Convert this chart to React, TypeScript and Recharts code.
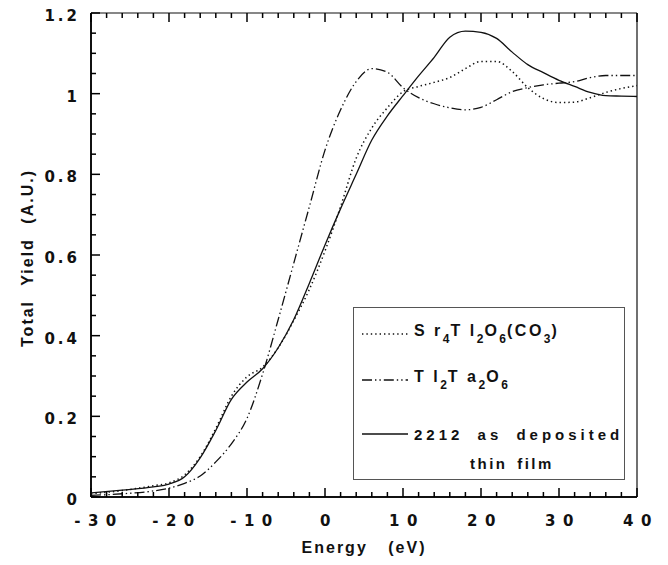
import { Legend, Line, LineChart, XAxis, YAxis } from 'recharts';

const energy = [
  -30, -26, -22, -20, -18, -16, -14, -12, -10, -8, -6, -4, -2, 0, 2, 4, 6, 8, 10, 12, 14, 16, 18, 20, 22, 24,
  26, 28, 30, 32, 34, 36, 38, 40,
];

// Sr4Tl2O6(CO3), dotted
const srTlYield = [
  0.008, 0.016, 0.028, 0.035, 0.055, 0.1, 0.17, 0.25, 0.298, 0.322, 0.37, 0.438, 0.515, 0.61, 0.72, 0.84, 0.915,
  0.965, 1.005, 1.018, 1.028, 1.04, 1.062, 1.08, 1.08, 1.055, 1.015, 0.988, 0.978, 0.979, 0.99, 1.003, 1.013, 1.02,
];

// Tl2Ta2O6, dash-dot-dot
const tlTaYield = [
  0.004, 0.008, 0.015, 0.022, 0.034, 0.052, 0.087, 0.132, 0.195, 0.305, 0.44, 0.58, 0.72, 0.86, 0.96, 1.03, 1.062,
  1.053, 1.015, 0.99, 0.975, 0.965, 0.96, 0.966, 0.985, 1.005, 1.015, 1.022, 1.026, 1.03, 1.04, 1.045, 1.045, 1.045,
];

// 2212 as deposited thin film, solid
const filmYield = [
  0.01, 0.017, 0.025, 0.032, 0.05, 0.097, 0.165, 0.242, 0.285, 0.318, 0.37, 0.44, 0.53, 0.625, 0.715, 0.8, 0.885,
  0.945, 0.995, 1.044, 1.09, 1.14, 1.155, 1.152, 1.137, 1.103, 1.072, 1.052, 1.033, 1.018, 1.003, 0.995, 0.994, 0.993,
];

const xTicks = Array.from({ length: 36 }, (_, i) => -30 + i * 2);
const yTicks = Array.from({ length: 25 }, (_, i) => Math.round(i * 5) / 100);

const rows = energy.map((e, i) => ({
  energy: e,
  srTl: srTlYield[i],
  tlTa: tlTaYield[i],
  film: filmYield[i],
}));

const FONT = '"Liberation Sans", Arial, sans-serif';
const TICK_FONT = '"DejaVu Sans", "Liberation Sans", sans-serif';
const INK = '#111';
const DOTTED = '1.4 3';
const DASHDOT = '10 3 1.4 3 1.4 3';

const isMajorX = (v: number) => v % 10 === 0;
const isMajorY = (v: number) => Math.round(v * 100) % 20 === 0;
const fmtY = (v: number) => String(Math.round(v * 10) / 10);

// ticks point inward on all four sides, long at labelled values
function BottomTick({ x, y, payload }: any) {
  const v = payload.value as number;
  const major = isMajorX(v);
  return (
    <g>
      <line x1={x} y1={y} x2={x} y2={y - (major ? 9 : 5)} stroke="#000" strokeWidth={1.5} />
      {major && (
        <text
          x={x + (v < 0 ? 8 : 4)}
          y={y + 29}
          textAnchor="middle"
          fontFamily={TICK_FONT}
          fontWeight="bold"
          fontSize={15}
          letterSpacing={7.5}
          fill={INK}
        >
          {v}
        </text>
      )}
    </g>
  );
}

function TopTick({ x, y, payload }: any) {
  const major = isMajorX(payload.value);
  return <line x1={x} y1={y} x2={x} y2={y + (major ? 9 : 5)} stroke="#000" strokeWidth={1.5} />;
}

function LeftTick({ x, y, payload }: any) {
  const v = payload.value as number;
  const major = isMajorY(v);
  return (
    <g>
      <line x1={x} y1={y} x2={x + (major ? 9 : 5)} y2={y} stroke="#000" strokeWidth={1.5} />
      {major && (
        <text
          x={x - 11}
          y={y + 8}
          textAnchor="end"
          fontFamily={TICK_FONT}
          fontWeight="bold"
          fontSize={15}
          letterSpacing={3}
          fill={INK}
        >
          {fmtY(v)}
        </text>
      )}
    </g>
  );
}

function RightTick({ x, y, payload }: any) {
  const major = isMajorY(payload.value);
  return <line x1={x} y1={y} x2={x - (major ? 9 : 5)} y2={y} stroke="#000" strokeWidth={1.5} />;
}

const textStyle = {
  fontFamily: FONT,
  fontWeight: 'bold' as const,
  fontSize: 15,
  letterSpacing: 4,
  color: INK,
  whiteSpace: 'pre' as const,
};

const subStyle = { fontSize: 12, verticalAlign: -7, letterSpacing: 1 };

function Sample({ dash }: { dash?: string }) {
  return (
    <svg width={46} height={6} style={{ marginRight: 6, flexShrink: 0 }}>
      <line x1={0} y1={3} x2={46} y2={3} stroke={INK} strokeWidth={1.3} strokeDasharray={dash} />
    </svg>
  );
}

function LegendBox() {
  return (
    <div
      style={{
        width: 272,
        height: 173,
        boxSizing: 'border-box',
        border: '1px solid #555',
        background: '#fff',
        padding: '14px 0 0 8px',
      }}
    >
      <div style={{ display: 'flex', alignItems: 'center', height: 24 }}>
        <Sample dash={DOTTED} />
        <span style={{ ...textStyle, fontSize: 16, letterSpacing: 2.5 }}>
          S r<span style={subStyle}>4</span>T l<span style={subStyle}>2</span>O<span style={subStyle}>6</span>(CO
          <span style={subStyle}>3</span>)
        </span>
      </div>
      <div style={{ display: 'flex', alignItems: 'center', height: 24, marginTop: 22 }}>
        <Sample dash={DASHDOT} />
        <span style={{ ...textStyle, fontSize: 16, letterSpacing: 2.5 }}>
          T l<span style={subStyle}>2</span>T a<span style={subStyle}>2</span>O<span style={subStyle}>6</span>
        </span>
      </div>
      <div style={{ display: 'flex', alignItems: 'center', height: 24, marginTop: 30 }}>
        <Sample />
        <span style={{ ...textStyle, wordSpacing: 6 }}>2212 as deposited</span>
      </div>
      <div style={{ ...textStyle, letterSpacing: 2.5, wordSpacing: 3, marginLeft: 108, marginTop: 9 }}>thin film</div>
    </div>
  );
}

export default function App() {
  return (
    <div style={{ position: 'absolute', left: 0, top: 0, width: 668, height: 565, background: '#fff' }}>
      <LineChart width={668} height={565} data={rows} margin={{ top: 12, right: 30, bottom: 28, left: 21 }}>
        <XAxis
          dataKey="energy"
          type="number"
          domain={[-30, 40]}
          ticks={xTicks}
          interval={0}
          tickLine={false}
          tickSize={0}
          tickMargin={0}
          height={40}
          stroke={INK}
          strokeWidth={2}
          tick={<BottomTick />}
        />
        <XAxis
          xAxisId="top"
          orientation="top"
          dataKey="energy"
          type="number"
          domain={[-30, 40]}
          ticks={xTicks}
          interval={0}
          tickLine={false}
          tickSize={0}
          tickMargin={0}
          height={1}
          stroke={INK}
          strokeWidth={1.2}
          tick={<TopTick />}
        />
        <YAxis
          type="number"
          domain={[0, 1.2]}
          ticks={yTicks}
          interval={0}
          tickLine={false}
          tickSize={0}
          tickMargin={0}
          width={70}
          stroke={INK}
          strokeWidth={2}
          tick={<LeftTick />}
        />
        <YAxis
          yAxisId="right"
          orientation="right"
          type="number"
          domain={[0, 1.2]}
          ticks={yTicks}
          interval={0}
          tickLine={false}
          tickSize={0}
          tickMargin={0}
          width={1}
          stroke={INK}
          strokeWidth={1.2}
          tick={<RightTick />}
        />
        <Legend
          layout="vertical"
          align="center"
          verticalAlign="middle"
          wrapperStyle={{ left: 353, top: 307, width: 272, height: 173 }}
          content={() => <LegendBox />}
        />
        <Line
          type="monotone"
          dataKey="srTl"
          name="Sr4Tl2O6(CO3)"
          stroke={INK}
          strokeWidth={1.5}
          strokeDasharray={DOTTED}
          dot={false}
          isAnimationActive={false}
        />
        <Line
          type="monotone"
          dataKey="tlTa"
          name="Tl2Ta2O6"
          stroke={INK}
          strokeWidth={1.3}
          strokeDasharray={DASHDOT}
          dot={false}
          isAnimationActive={false}
        />
        <Line
          type="monotone"
          dataKey="film"
          name="2212 as deposited thin film"
          stroke={INK}
          strokeWidth={1.3}
          dot={false}
          isAnimationActive={false}
        />
      </LineChart>
      <div
        style={{
          position: 'absolute',
          left: 28,
          top: 258,
          transform: 'translate(-50%, -50%) rotate(-90deg)',
          ...textStyle,
          fontSize: 16,
          letterSpacing: 2,
          wordSpacing: 8,
        }}
      >
        Total Yield (A.U.)
      </div>
      <div
        style={{
          position: 'absolute',
          left: 364,
          top: 548,
          transform: 'translate(-50%, -50%)',
          ...textStyle,
          fontSize: 16,
          letterSpacing: 2,
          wordSpacing: 14,
        }}
      >
        Energy (eV)
      </div>
    </div>
  );
}
